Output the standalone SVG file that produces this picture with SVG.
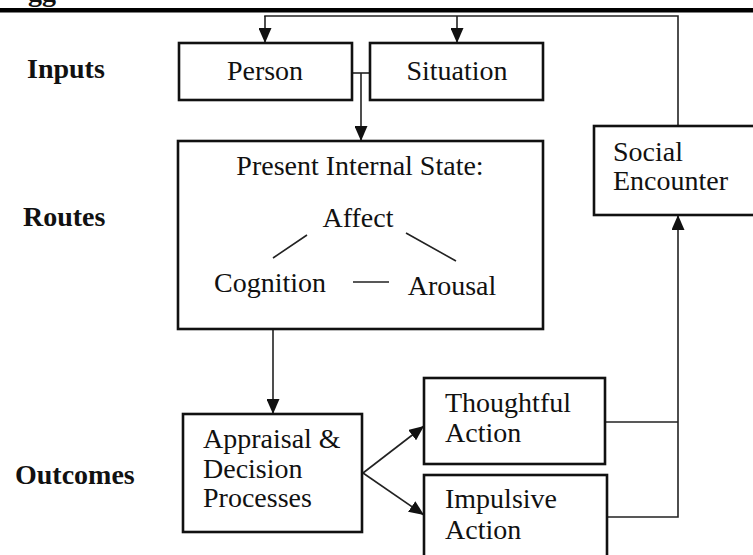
<svg xmlns="http://www.w3.org/2000/svg" width="753" height="555" viewBox="0 0 753 555">
<style>
.box{fill:#fff;stroke:#111;stroke-width:2.6}
.t{font-family:"Liberation Serif","Times New Roman",serif;font-size:28px;fill:#111}
.m{text-anchor:middle}
.lab{font-family:"Liberation Serif","Times New Roman",serif;font-size:28px;font-weight:bold;fill:#111}
.c{fill:none;stroke:#222;stroke-width:1.6}
</style>
<defs>
<marker id="ah" viewBox="0 0 15 13" refX="15" refY="6.5" markerWidth="15" markerHeight="13" markerUnits="userSpaceOnUse" orient="auto">
<path d="M0,0 L15,6.5 L0,13 Z" fill="#111"/>
</marker>
</defs>
<rect width="753" height="555" fill="#fff"/>
<text class="lab" x="28" y="1">gg</text>
<rect x="0" y="8" width="753" height="4.5" fill="#000"/>

<g id="labels">
<text class="lab" x="27" y="78">Inputs</text>
<text class="lab" x="23" y="226">Routes</text>
<text class="lab" x="15" y="484">Outcomes</text>
</g>

<g id="connectors">
<path class="c" d="M265,17 V16 H678 V126"/>
<path class="c" d="M265,16 V43" marker-end="url(#ah)"/>
<path class="c" d="M457,16 V43" marker-end="url(#ah)"/>
<path class="c" d="M352,73 H370"/>
<path class="c" d="M361,73 V141" marker-end="url(#ah)"/>
<path class="c" d="M273,329 V414" marker-end="url(#ah)"/>
<path class="c" d="M363,473 L424,426" marker-end="url(#ah)"/>
<path class="c" d="M363,473 L424,515" marker-end="url(#ah)"/>
<path class="c" d="M605,422 H678"/>
<path class="c" d="M607,517 H678 V215" marker-end="url(#ah)"/>
</g>

<g id="person">
<rect class="box" x="179" y="43" width="173" height="57"/>
<text class="t m" x="265" y="80">Person</text>
</g>
<g id="situation">
<rect class="box" x="370" y="43" width="173" height="57"/>
<text class="t m" x="457" y="80">Situation</text>
</g>
<g id="present-state">
<rect class="box" x="178" y="141" width="365" height="188"/>
<text class="t m" x="360" y="175">Present Internal State:</text>
<text class="t m" x="358" y="227">Affect</text>
<text class="t m" x="270" y="292">Cognition</text>
<text class="t m" x="452" y="295">Arousal</text>
<path class="c" d="M307,235 L273,258 M406,233 L456,261 M353,282 H389"/>
</g>
<g id="social-encounter">
<rect class="box" x="594" y="126" width="170" height="89"/>
<text class="t" x="613" y="161">Social</text>
<text class="t" x="613" y="190">Encounter</text>
</g>
<g id="appraisal">
<rect class="box" x="183" y="414" width="179" height="118"/>
<text class="t" x="203" y="448">Appraisal &amp;</text>
<text class="t" x="203" y="478">Decision</text>
<text class="t" x="203" y="507">Processes</text>
</g>
<g id="thoughtful">
<rect class="box" x="424" y="378" width="181" height="86"/>
<text class="t" x="445" y="412">Thoughtful</text>
<text class="t" x="445" y="442">Action</text>
</g>
<g id="impulsive">
<rect class="box" x="424" y="475" width="183" height="90"/>
<text class="t" x="445" y="508">Impulsive</text>
<text class="t" x="445" y="539">Action</text>
</g>
</svg>
